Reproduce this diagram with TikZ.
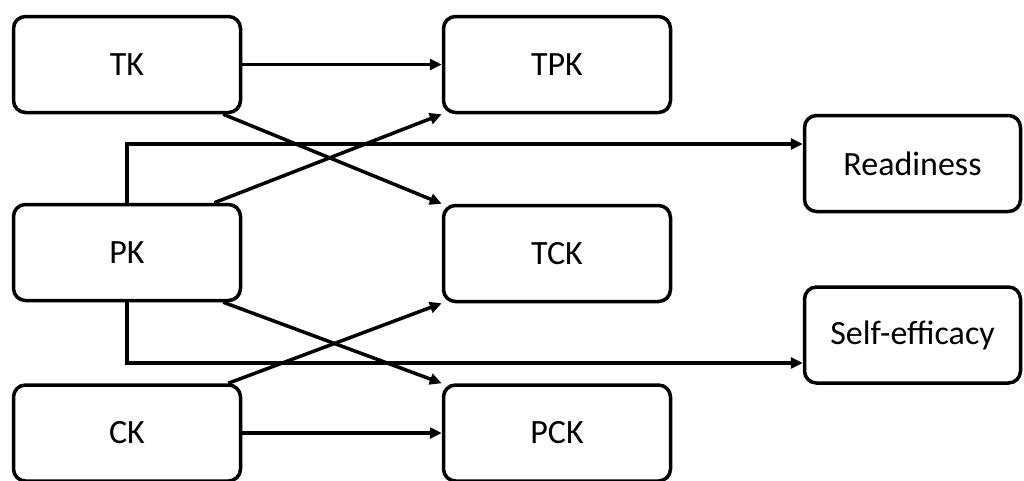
\documentclass[tikz,border=0pt]{standalone}
\usepackage{fontspec}
\setmainfont{Carlito}
\usetikzlibrary{arrows.meta,positioning}

\begin{document}
\begin{tikzpicture}[
    x=1pt, y=-1pt,
    blk/.style={rectangle, draw, rounded corners=12pt, line width=3.5pt,
                font=\fontsize{34}{40}\selectfont,
                minimum width=227pt, minimum height=96pt, align=center},
    res/.style={blk, minimum width=216pt},
    arr/.style={-{Triangle[length=12pt, width=11pt]}, line width=3.5pt}
  ]
  \useasboundingbox (0,0) rectangle (1024,480);
  % knowledge components
  \node[blk] (tk)  at (127,64.5)  {TK};
  \node[blk] (pk)  at (127,252.5) {PK};
  \node[blk] (ck)  at (127,433)   {CK};
  \node[blk] (tpk) at (557,64.5)  {TPK};
  \node[blk] (tck) at (557,253.5) {TCK};
  \node[blk] (pck) at (557,433)   {PCK};
  % outcomes
  \node[res] (rdy) at (912.5,163.5) {Readiness};
  \node[res] (se)  at (912.5,335)   {Self-efficacy};

  \draw[arr] (tk) -- (tpk);
  \draw[arr] (ck) -- (pck);
  \draw[arr] ([xshift=-19pt]tk.south east) -- (tck.north west);
  \draw[arr] ([xshift=-28pt]pk.north east) -- (tpk.south west);
  \draw[arr] ([xshift=-19pt]pk.south east) -- (pck.north west);
  \draw[arr] ([xshift=-14pt]ck.north east) -- (tck.south west);
  \draw[arr] (pk.north) |- ([yshift=19.5pt]rdy.west);
  \draw[arr] (pk.south) |- ([yshift=-28pt]se.west);
\end{tikzpicture}
\end{document}
